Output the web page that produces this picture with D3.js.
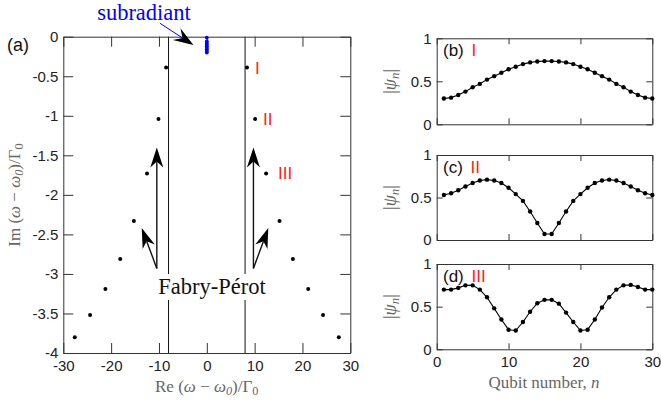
<!DOCTYPE html>
<html><head><meta charset="utf-8">
<script src="https://cdn.jsdelivr.net/npm/d3@7"></script>
<style>body{margin:0;background:#fff} svg{display:block}</style>
</head><body><svg id="c" width="661" height="401"></svg>
<script>
// ---------- data ----------
const eigenRe = [-27.6,-24.4,-21.2,-18.1,-15.25,-12.5,-10.1,-8.5, 8.4,10.1,12.4,15.2,18.0,21.2,24.3,27.6];
const eigenIm = [-3.80,-3.52,-3.19,-2.81,-2.33,-1.73,-1.04,-0.39, -0.39,-1.04,-1.73,-2.33,-2.81,-3.19,-3.52,-3.80];
const subRe = [0,0,0,0,0,0,0,0,0];
const subIm = [-0.012,-0.06,-0.08,-0.10,-0.12,-0.14,-0.16,-0.18,-0.20];
const fpLines = [-8, 8];
const modeLabels = ["I","II","III"];
const reTicks = [-30,-20,-10,0,10,20,30];
const imTicks = [0,-0.5,-1,-1.5,-2,-2.5,-3,-3.5,-4];
const qubitN = [1,2,3,4,5,6,7,8,9,10,11,12,13,14,15,16,17,18,19,20,21,22,23,24,25,26,27,28,29,30];
const psiI   = [0.30,0.31,0.34,0.38,0.43,0.47,0.52,0.56,0.60,0.64,0.67,0.70,0.72,0.73,0.735,0.735,0.73,0.72,0.70,0.67,0.64,0.60,0.56,0.52,0.47,0.43,0.38,0.34,0.31,0.30];
const psiII  = [0.53,0.55,0.585,0.63,0.67,0.70,0.71,0.70,0.67,0.615,0.54,0.46,0.335,0.20,0.07,0.07,0.20,0.335,0.46,0.54,0.615,0.67,0.70,0.71,0.70,0.67,0.63,0.585,0.55,0.53];
const psiIII = [0.70,0.70,0.72,0.75,0.75,0.70,0.61,0.48,0.35,0.23,0.22,0.32,0.44,0.54,0.58,0.58,0.535,0.43,0.32,0.22,0.23,0.35,0.49,0.61,0.70,0.75,0.755,0.73,0.70,0.70];
const nTicks = [0,10,20,30];
const psiTicks = [0,0.5,1];
const panelTags = ["(b)","(c)","(d)"];

// ---------- setup ----------
const svg = d3.select("#c");
const SANS = "'Liberation Sans', Arial, sans-serif";
const SERIF = "'Liberation Serif', 'Times New Roman', serif";
const AX = "#333", TXT = "#222", LAB = "#666";

function styleAxis(g){
  g.selectAll("path.domain").attr("stroke", AX).attr("stroke-width",1);
  g.selectAll(".tick line").attr("stroke", AX).attr("stroke-width",1);
  g.selectAll(".tick text").attr("fill", TXT).style("font-family", SANS).style("font-size","15px");
}
function box(g, x, y, tickLen, xTicks, yTicks, showX, yFmt){
  const [x0,x1] = x.range(), [y0,y1] = y.range();
  const b = g.append("g").attr("transform",`translate(0,${y0})`)
    .call(d3.axisBottom(x).tickValues(xTicks).tickSizeInner(-tickLen).tickSizeOuter(0).tickPadding(7)
      .tickFormat(showX ? d=>String(d) : ""));
  styleAxis(b);
  const t = g.append("g").attr("transform",`translate(0,${y1})`)
    .call(d3.axisTop(x).tickValues(xTicks).tickSizeInner(-tickLen).tickSizeOuter(0).tickFormat(""));
  styleAxis(t);
  const l = g.append("g").attr("transform",`translate(${x0},0)`)
    .call(d3.axisLeft(y).tickValues(yTicks).tickSizeInner(-tickLen).tickSizeOuter(0).tickPadding(5).tickFormat(yFmt));
  styleAxis(l);
  const r = g.append("g").attr("transform",`translate(${x1},0)`)
    .call(d3.axisRight(y).tickValues(yTicks).tickSizeInner(-tickLen).tickSizeOuter(0).tickFormat(""));
  styleAxis(r);
}
function mathLabel(sel, parts){
  let shifted = false;
  parts.forEach(([s, st])=>{
    const t = sel.append("tspan").text(s);
    const sub = st==='s' || st==='si';
    if (st==='i' || st==='si') t.attr("font-style","italic");
    if (sub){ t.attr("font-size","0.72em"); if(!shifted){t.attr("dy","0.25em"); shifted=true;} }
    else if (shifted){ t.attr("dy","-0.18em"); shifted=false; }
  });
}
function arrow(g, x1,y1,x2,y2, o){
  const dx=x2-x1, dy=y2-y1, len=Math.hypot(dx,dy), ux=dx/len, uy=dy/len, nx=-uy, ny=ux;
  const L=o.L, W=o.W, N=o.N;
  g.append("line").attr("x1",x1).attr("y1",y1).attr("x2",x2-ux*N).attr("y2",y2-uy*N)
    .attr("stroke",o.shaft).attr("stroke-width",o.sw);
  const pts=[[x2,y2],[x2-ux*L+nx*W,y2-uy*L+ny*W],[x2-ux*N,y2-uy*N],[x2-ux*L-nx*W,y2-uy*L-ny*W]];
  g.append("path").attr("d","M"+pts.map(p=>p.join(",")).join("L")+"Z").attr("fill",o.head);
}

// ---------- panel (a) ----------
const xA = d3.scaleLinear().domain([-30,30]).range([63.3,350.3]);
const yA = d3.scaleLinear().domain([-4,0]).range([353,36.7]);
const gA = svg.append("g");

gA.selectAll("line.fp").data(fpLines).join("line").attr("class","fp")
  .attr("x1",d=>xA(d)).attr("x2",d=>xA(d)).attr("y1",yA(0)).attr("y2",yA(-4))
  .attr("stroke","#111").attr("stroke-width",1);

box(gA, xA, yA, 10, reTicks, imTicks, true, d=>d===0?"0":String(d));

gA.selectAll("circle.ev").data(eigenRe.map((r,i)=>[r,eigenIm[i]])).join("circle").attr("class","ev")
  .attr("cx",d=>xA(d[0])).attr("cy",d=>yA(d[1])).attr("r",2).attr("fill","#000");
gA.selectAll("circle.sub").data(subRe.map((r,i)=>[r,subIm[i]])).join("circle").attr("class","sub")
  .attr("cx",d=>xA(d[0])).attr("cy",d=>yA(d[1])).attr("r",1.9).attr("fill","#0000ff");

const rightIdx = [8,9,10], lblDx = [8,8,12];
modeLabels.forEach((m,k)=>{
  const i = rightIdx[k];
  gA.append("text").attr("x", xA(eigenRe[i])+lblDx[k]).attr("y", yA(eigenIm[i])+6)
    .attr("fill","#ff1a1a").style("font-family",SANS).style("font-size","17px").text(m);
});

gA.append("rect").attr("x",152).attr("y",274).attr("width",120).attr("height",26).attr("fill","#fff");
gA.append("text").attr("x",212).attr("y",294).attr("text-anchor","middle")
  .style("font-family",SERIF).style("font-size","22.5px").attr("fill","#111").text("Fabry-Pérot");
const fpA = {L:20,W:6.5,N:14,sw:1.4,shaft:"#111",head:"#000"};
arrow(gA, xA(-10.45), yA(-2.93), xA(-10.45), yA(-1.40), fpA);
arrow(gA, xA(-10.45), yA(-2.93), xA(-13.6), yA(-2.42), fpA);
arrow(gA, xA(9.75), yA(-2.93), xA(9.75), yA(-1.40), fpA);
arrow(gA, xA(9.75), yA(-2.93), xA(12.85), yA(-2.42), fpA);

gA.append("text").attr("x",144).attr("y",20).attr("text-anchor","middle")
  .style("font-family",SERIF).style("font-size","22.5px").attr("fill","#0000ff").text("subradiant");
arrow(gA, xA(-9.8), yA(0.17), xA(-2.8), yA(-0.105), {L:20,W:7,N:13,sw:1,shaft:"#0000ff",head:"#000"});

gA.append("text").attr("x",7).attr("y",51).style("font-family",SANS).style("font-size","18px").attr("fill","#111").text("(a)");

const xl = gA.append("text").attr("x",206.7).attr("y",392).attr("text-anchor","middle")
  .style("font-family",SERIF).style("font-size","17px").attr("fill",LAB);
mathLabel(xl, [["Re (","r"],["ω","i"],[" − ","r"],["ω","i"],["0","si"],[")/Γ","r"],["0","s"]]);
const yl = gA.append("text").attr("transform","translate(20,195) rotate(-90)").attr("text-anchor","middle")
  .style("font-family",SERIF).style("font-size","17px").attr("fill",LAB);
mathLabel(yl, [["Im (","r"],["ω","i"],[" − ","r"],["ω","i"],["0","si"],[")/Γ","r"],["0","s"]]);

// ---------- panels (b)(c)(d) ----------
const xR = d3.scaleLinear().domain([0,30]).range([436.7,652.3]);
const ranges = [[124.3,38.3],[240,155],[349.3,264]];
const series = [psiI, psiII, psiIII];
series.forEach((vals,k)=>{
  const y = d3.scaleLinear().domain([0,1]).range(ranges[k]);
  const g = svg.append("g");
  box(g, xR, y, 6, nTicks, psiTicks, k===2, d=>d===0?"0":d===1?"1":"0.5");
  const line = d3.line().x((d,i)=>xR(qubitN[i])).y(d=>y(d));
  g.append("path").datum(vals).attr("d",line).attr("fill","none").attr("stroke","#000").attr("stroke-width",1.1);
  g.selectAll("circle").data(vals).join("circle").attr("cx",(d,i)=>xR(qubitN[i])).attr("cy",d=>y(d)).attr("r",2.2).attr("fill","#000");
  const tag = g.append("text").attr("x",443).attr("y",ranges[k][1]+18).style("font-family",SANS).style("font-size","17px").attr("fill","#111");
  tag.append("tspan").text(panelTags[k]+" ");
  tag.append("tspan").attr("fill","#ff1a1a").attr("dx",3).text(modeLabels[k]);
  const yc = (ranges[k][0]+ranges[k][1])/2;
  const pl = g.append("text").attr("transform",`translate(396,${yc}) rotate(-90)`).attr("text-anchor","middle")
    .style("font-family",SERIF).style("font-size","18px").attr("fill",LAB);
  mathLabel(pl, [["|","r"],["ψ","i"],["n","si"],["|","r"]]);
});
const ql = svg.append("text").attr("x",544).attr("y",388).attr("text-anchor","middle")
  .style("font-family",SERIF).style("font-size","17px").attr("fill",LAB);
mathLabel(ql, [["Qubit number, ","r"],["n","i"]]);
</script></body></html>
